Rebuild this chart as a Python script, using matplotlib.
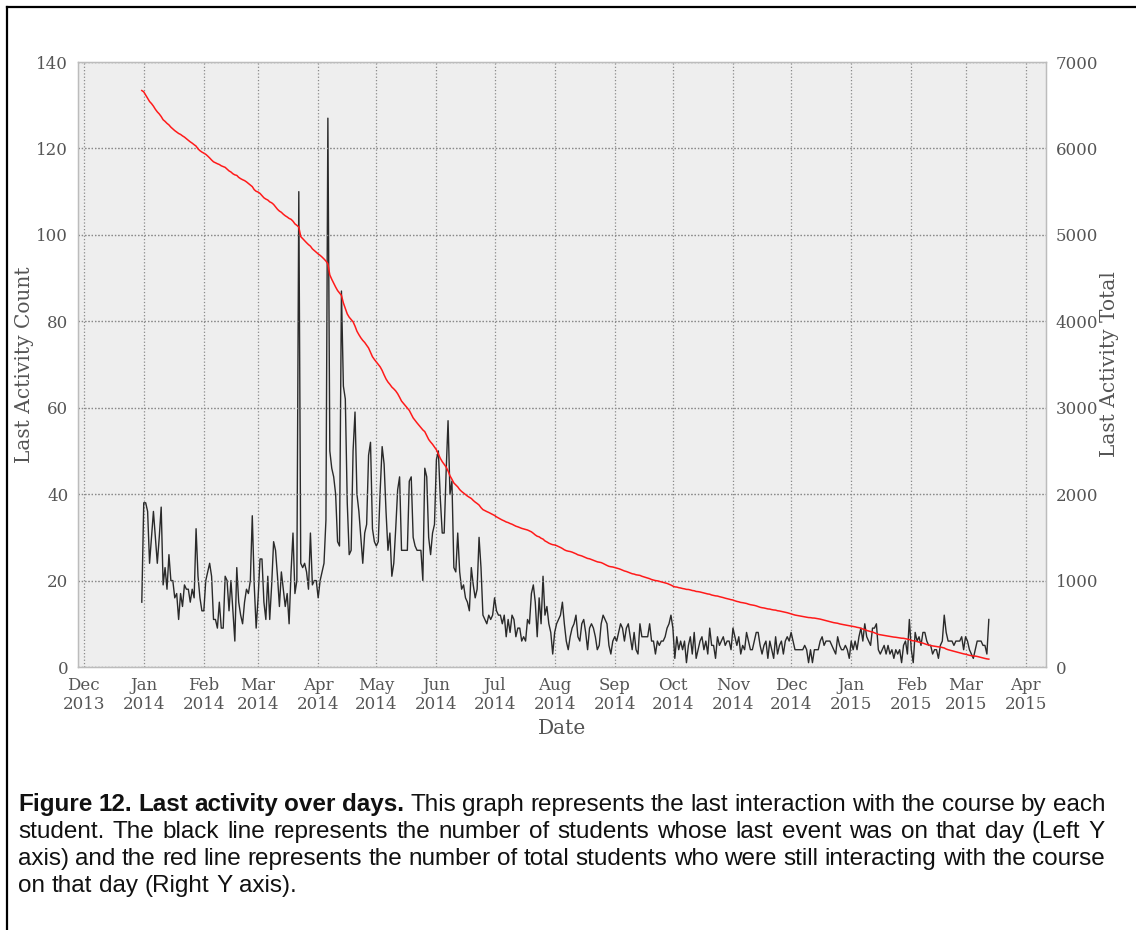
import numpy as np
import pandas as pd
import matplotlib
matplotlib.use("Agg")
import matplotlib.pyplot as plt
import matplotlib.dates as mdates
from matplotlib.lines import Line2D

# ---------------- data: daily "last activity" counts ----------------
start_date = "2013-12-31"
dec_2013 = [15]
jan_2014 = [38, 38, 36, 24, 30, 36, 30, 24, 30, 37, 19, 23, 18, 26, 20, 20, 16, 17, 11, 17,
            14, 19, 18, 18, 15, 18, 16, 32, 21, 16, 13]
feb_2014 = [13, 20, 22, 24, 21, 11, 11, 9, 15, 9, 9, 21, 20, 13, 20, 13, 6, 23, 15, 12,
            10, 15, 18, 17, 20, 35, 19, 9]
mar_2014 = [16, 25, 25, 15, 11, 21, 11, 19, 29, 27, 21, 14, 22, 18, 14, 17, 10, 22, 31, 17,
            20, 110, 24, 23, 24, 22, 18, 31, 19, 20, 20]
apr_2014 = [16, 20, 22, 24, 34, 127, 50, 46, 44, 40, 29, 28, 87, 65, 62, 38, 26, 27, 50, 59,
            40, 36, 30, 24, 31, 33, 49, 52, 32, 29]
may_2014 = [28, 29, 41, 51, 47, 36, 27, 31, 21, 24, 32, 41, 44, 27, 27, 27, 27, 43, 44, 30,
            28, 27, 27, 27, 20, 46, 44, 30, 26, 31, 33]
jun_2014 = [48, 50, 39, 31, 31, 45, 57, 40, 43, 23, 22, 31, 22, 18, 19, 16, 15, 13, 23, 19,
            16, 18, 30, 23, 12, 11, 10, 12, 11, 12]
jul_2014 = [16, 13, 12, 12, 10, 12, 7, 11, 8, 12, 11, 7, 9, 9, 6, 7, 6, 11, 10, 17,
            19, 15, 7, 16, 10, 21, 12, 14, 10, 8, 3]
aug_2014 = [8, 10, 11, 12, 15, 10, 6, 4, 7, 9, 10, 12, 7, 6, 10, 11, 8, 4, 9, 10,
            9, 7, 4, 5, 10, 12, 11, 10, 5, 3, 6]
sep_2014 = [7, 6, 8, 10, 9, 6, 9, 10, 7, 4, 8, 4, 3, 10, 7, 7, 7, 7, 10, 6,
            6, 3, 6, 5, 6, 6, 7, 9, 10, 12]
oct_2014 = [9, 2, 7, 4, 6, 4, 6, 1, 5, 7, 3, 8, 2, 4, 6, 7, 4, 6, 3, 9,
            5, 5, 2, 7, 5, 6, 7, 5, 6, 6, 4]
nov_2014 = [9, 7, 5, 7, 3, 5, 4, 8, 6, 4, 4, 6, 8, 8, 5, 3, 5, 6, 2, 6,
            4, 2, 7, 3, 5, 6, 3, 6, 7, 6]
dec_2014 = [8, 6, 4, 4, 4, 4, 4, 5, 4, 1, 4, 1, 4, 4, 4, 6, 7, 5, 6, 6,
            6, 5, 4, 3, 7, 5, 4, 4, 5, 4, 2]
jan_2015 = [6, 4, 6, 4, 7, 9, 6, 10, 7, 6, 5, 9, 9, 10, 4, 3, 4, 5, 3, 5,
            3, 4, 2, 4, 3, 4, 1, 5, 6, 3, 11]
feb_2015 = [4, 1, 8, 6, 7, 5, 8, 8, 6, 5, 5, 3, 4, 4, 2, 5, 6, 12, 8, 6,
            6, 6, 5, 6, 6, 6, 7, 4]
mar_2015 = [7, 6, 4, 3, 2, 4, 6, 6, 6, 5, 5, 3, 11]

# total number of students at the start (right axis)
total_students = 6670

counts = np.array(dec_2013 + jan_2014 + feb_2014 + mar_2014 + apr_2014 + may_2014 +
                  jun_2014 + jul_2014 + aug_2014 + sep_2014 + oct_2014 + nov_2014 +
                  dec_2014 + jan_2015 + feb_2015 + mar_2015)
dates = pd.date_range(start_date, periods=len(counts), freq="D")
# students still active on a day = total minus those whose last day came before it
still_active = total_students - (np.cumsum(counts) - counts)

# ---------------- figure ----------------
W, H = 1136, 930
fig = plt.figure(figsize=(W / 100, H / 100), dpi=100)
fig.patch.set_facecolor("white")

def fx(px):
    return px / W

def fy(py):
    return 1 - py / H

# outer frame (left and top edges of the page box)
frame_color = "black"
fig.add_artist(Line2D([fx(7), fx(7)], [fy(7), fy(935)], color=frame_color, lw=1.6,
                      transform=fig.transFigure))
fig.add_artist(Line2D([fx(7), fx(1140)], [fy(7), fy(7)], color=frame_color, lw=1.6,
                      transform=fig.transFigure))

left_px, right_px, top_px, bottom_px = 78, 1046, 62, 667
ax = fig.add_axes([fx(left_px), fy(bottom_px), (right_px - left_px) / W,
                   (bottom_px - top_px) / H])
ax.set_facecolor("#eeeeee")
for s in ax.spines.values():
    s.set_color("#bcbcbc")
    s.set_linewidth(1.0)

text_color = "#555555"
serif = "DejaVu Serif"
tick_fs = 12
label_fs = 14.5

ax.plot(dates, counts, color="#2a2a2a", lw=1.0, zorder=3)
ax.set_ylim(0, 140)
ax.set_yticks(np.arange(0, 141, 20))
ax.set_xlim(pd.Timestamp("2013-11-28 02:00"), pd.Timestamp("2015-04-11 12:00"))
ax.xaxis.set_major_locator(mdates.MonthLocator())
ax.xaxis.set_major_formatter(mdates.DateFormatter("%b\n%Y"))
ax.grid(True, linestyle=":", color="#8a8a8a", linewidth=0.9)
ax.set_axisbelow(True)
ax.tick_params(axis="both", length=0, labelsize=tick_fs, labelcolor=text_color)
ax.tick_params(axis="x", pad=7)
ax.tick_params(axis="y", pad=7)
for lab in ax.get_xticklabels() + ax.get_yticklabels():
    lab.set_family(serif)
ax.set_xlabel("Date", fontsize=label_fs, color=text_color, family=serif, labelpad=4)
ax.set_ylabel("Last Activity Count", fontsize=label_fs, color=text_color, family=serif,
              labelpad=2)

ax2 = ax.twinx()
ax2.plot(dates, still_active, color="#ff1a1a", lw=1.1, zorder=4)
ax2.set_ylim(0, 7000)
ax2.set_yticks(np.arange(0, 7001, 1000))
ax2.grid(True, axis="y", linestyle=":", color="#8a8a8a", linewidth=0.9)
ax2.tick_params(axis="y", length=0, labelsize=tick_fs, labelcolor=text_color, pad=7)
for lab in ax2.get_yticklabels():
    lab.set_family(serif)
for s in ax2.spines.values():
    s.set_color("#bcbcbc")
ax2.set_ylabel("Last Activity Total", fontsize=label_fs, color=text_color, family=serif,
               labelpad=1)

# ---------------- caption (justified) ----------------
cap_family = ["Liberation Sans", "DejaVu Sans"]
cap_fs = 17.5
renderer = fig.canvas.get_renderer()

def word_width(word, weight):
    t = fig.text(0, 0, word, fontsize=cap_fs, family=cap_family, weight=weight)
    w = t.get_window_extent(renderer).width
    t.remove()
    return w

def caption_line(segments, baseline_px, x0=18, x1=1105, justify=True):
    words = []
    for txt, weight in segments:
        for wd in txt.split():
            words.append((wd, weight))
    widths = [word_width(wd, wt) for wd, wt in words]
    space = word_width("a a", "normal") - 2 * word_width("a", "normal")
    if justify and len(words) > 1:
        gap = (x1 - x0 - sum(widths)) / (len(words) - 1)
    else:
        gap = space
    x = x0
    for (wd, wt), w in zip(words, widths):
        fig.text(fx(x), fy(baseline_px), wd, fontsize=cap_fs, family=cap_family,
                 weight=wt, color="#111111", ha="left", va="baseline")
        x += w + gap

caption_line([("Figure 12. Last activity over days.", "bold"),
              ("This graph represents the last interaction with the course by each", "normal")], 811)
caption_line([("student. The black line represents the number of students whose last event "
               "was on that day (Left Y", "normal")], 838)
caption_line([("axis) and the red line represents the number of total students who were "
               "still interacting with the course", "normal")], 865)
caption_line([("on that day (Right Y axis).", "normal")], 892, justify=False)

fig.savefig("out.png", dpi=100, facecolor="white")
